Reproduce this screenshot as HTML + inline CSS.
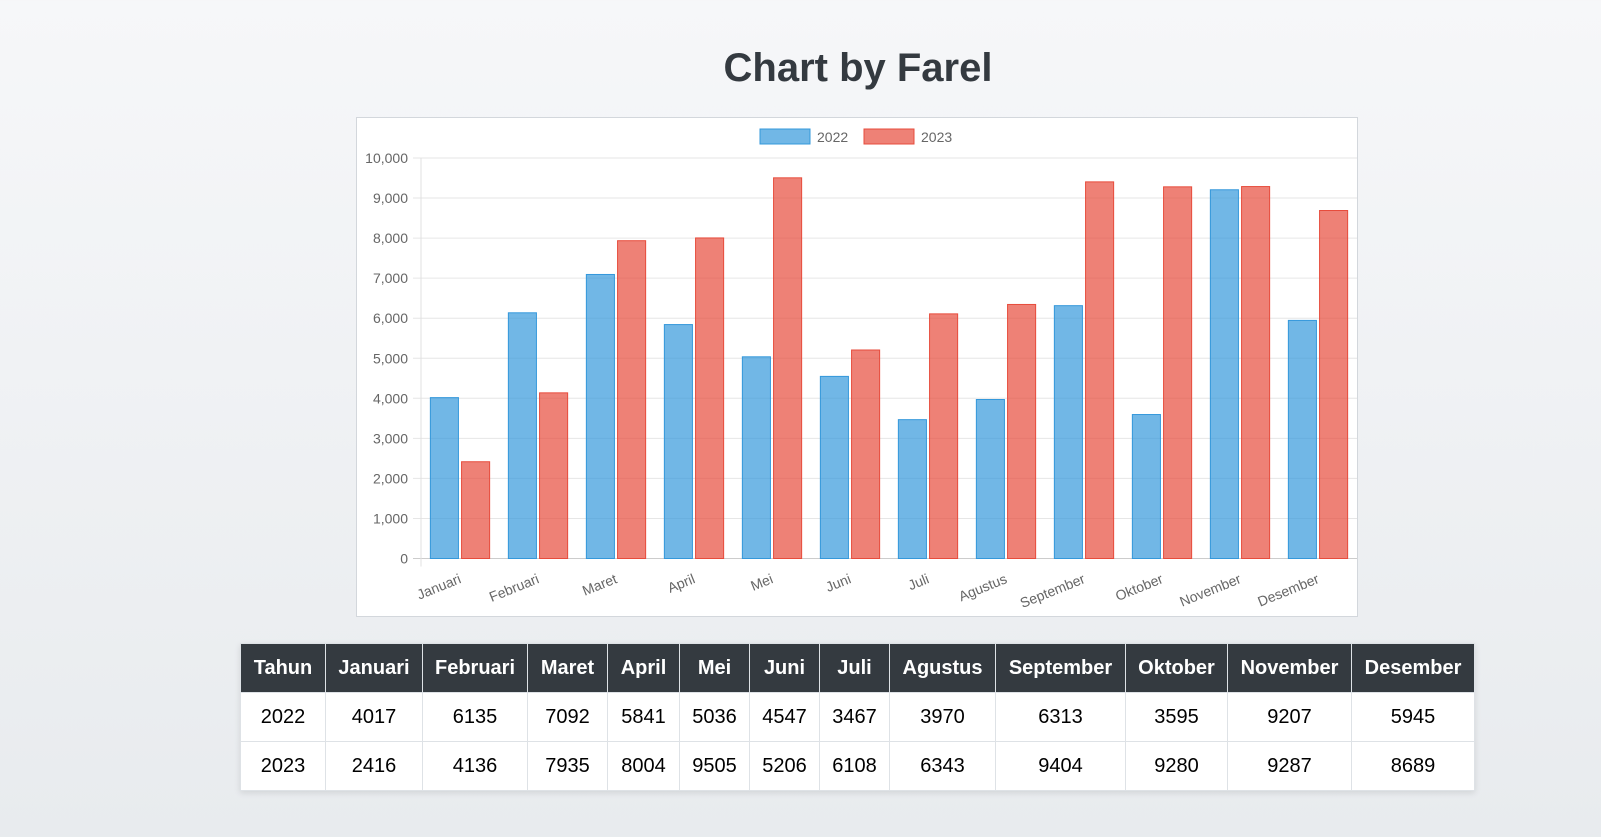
<!DOCTYPE html>
<html><head><meta charset="utf-8"><style>
body{margin:0;width:1601px;height:837px;overflow:hidden;background:linear-gradient(#f6f7f9,#e8ebee);font-family:"Liberation Sans",Arial,sans-serif;position:relative}
h1{position:absolute;left:0;width:1716px;top:46px;margin:0;text-align:center;font-size:40px;font-weight:bold;color:#343a40}
#box{position:absolute;left:356px;top:117px;width:1000px;height:498px;background:#fff;border:1px solid #d3d7dc}
table{position:absolute;left:240px;top:643px;border-collapse:collapse;background:#fff;box-shadow:0 2px 6px rgba(0,0,0,.1);table-layout:fixed;width:1234px}
th{background:#343a40;color:#fff;font-size:20px;height:48px;border:1px solid #dee2e6;padding:0}
td{font-size:20px;height:48px;text-align:center;border:1px solid #dee2e6;padding:0;color:#000}
</style></head><body>
<h1>Chart by Farel</h1>
<div id="box">
<svg id="chart" width="1000" height="498"></svg>
</div>
<table>
<colgroup><col style="width:85px"><col style="width:97px"><col style="width:105px"><col style="width:80px"><col style="width:72px"><col style="width:70px"><col style="width:70px"><col style="width:70px"><col style="width:106px"><col style="width:130px"><col style="width:102px"><col style="width:124px"><col style="width:123px"></colgroup>
<tr><th>Tahun</th><th>Januari</th><th>Februari</th><th>Maret</th><th>April</th><th>Mei</th><th>Juni</th><th>Juli</th><th>Agustus</th><th>September</th><th>Oktober</th><th>November</th><th>Desember</th></tr>
<tr><td>2022</td><td>4017</td><td>6135</td><td>7092</td><td>5841</td><td>5036</td><td>4547</td><td>3467</td><td>3970</td><td>6313</td><td>3595</td><td>9207</td><td>5945</td></tr>
<tr><td>2023</td><td>2416</td><td>4136</td><td>7935</td><td>8004</td><td>9505</td><td>5206</td><td>6108</td><td>6343</td><td>9404</td><td>9280</td><td>9287</td><td>8689</td></tr>
</table>
<script>
const categories=["Januari","Februari","Maret","April","Mei","Juni","Juli","Agustus","September","Oktober","November","Desember"];
const series2022=[4017,6135,7092,5841,5036,4547,3467,3970,6313,3595,9207,5945];
const series2023=[2416,4136,7935,8004,9505,5206,6108,6343,9404,9280,9287,8689];
const yTicks=[0,1000,2000,3000,4000,5000,6000,7000,8000,9000,10000];
const NS="http://www.w3.org/2000/svg";
const svg=document.getElementById('chart');
const L=64,R=1000,T=40,B=440.5,yMax=10000;
const y=v=>B-(v/yMax)*(B-T);
const cw=(R-L)/categories.length;
const x=i=>L+i*cw;
function mk(t,a,p){const e=document.createElementNS(NS,t);for(const k in a)e.setAttribute(k,a[k]);(p||svg).appendChild(e);return e;}
yTicks.forEach(v=>{
 const g=mk('line',{x1:L-8,x2:R,y1:y(v),y2:y(v),stroke:v===0?'#ccc':'#e6e6e6','stroke-width':1});
 
 
 const t=mk('text',{x:L-13,y:y(v)+5,'text-anchor':'end','font-size':14,fill:'#666','font-family':'Liberation Sans'});
 t.textContent=v.toLocaleString('en-US');
 
 
});
const ax=mk('line',{x1:L,x2:L,y1:T,y2:B+8,stroke:'#e0e0e0'});


categories.forEach((c,i)=>{
 const gs=x(i)+cw*0.1;
 [[series2022,'rgba(52,152,219,0.7)','#3498db','bar-2022'],[series2023,'rgba(231,76,60,0.7)','#e74c3c','bar-2023']].forEach((s,j)=>{
  const bx=gs+j*cw*0.4+cw*0.4*0.05;
  const r=mk('rect',{x:bx,y:y(s[0][i]),width:cw*0.36,height:B-y(s[0][i]),fill:s[1],stroke:s[2],'stroke-width':1});
  
  
 });
 const cx=x(i)+cw/2;
 const t=mk('text',{x:cx+2,y:B+24,'text-anchor':'end','font-size':14,fill:'#666','font-family':'Liberation Sans',transform:`rotate(-22 ${cx+2} ${B+24})`});
 t.textContent=c;
 
 
});
[['2022','rgba(52,152,219,0.7)','#3498db',403,460],['2023','rgba(231,76,60,0.7)','#e74c3c',507,564]].forEach(l=>{
 const r=mk('rect',{x:l[3],y:11,width:50,height:15,fill:l[1],stroke:l[2]});
 
 
 const t=mk('text',{x:l[4],y:24,'font-size':14,fill:'#666','font-family':'Liberation Sans'});
 t.textContent=l[0];
 
 
});
</script>
</body></html>
